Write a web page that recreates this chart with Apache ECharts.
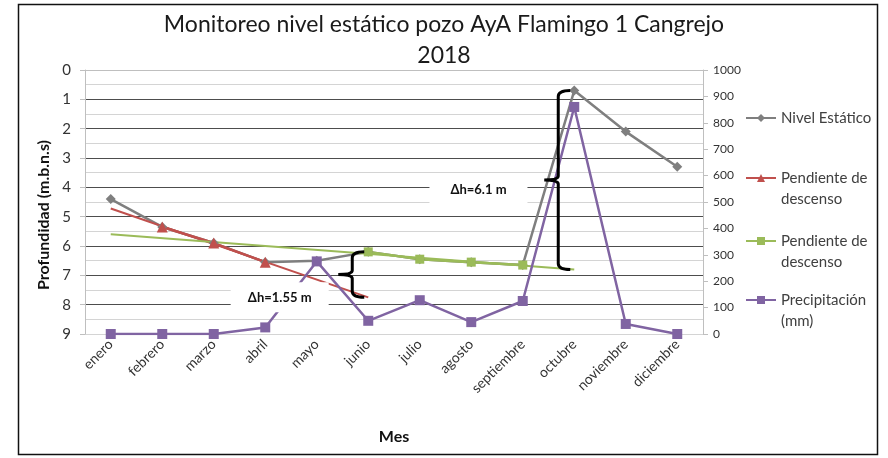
<!DOCTYPE html>
<html>
<head>
<meta charset="utf-8">
<script src="https://cdn.jsdelivr.net/npm/echarts@6/dist/echarts.min.js"></script>
<style>
  html, body { margin: 0; padding: 0; background: #ffffff; }
  #chart { width: 888px; height: 458px; }
</style>
</head>
<body>
<div id="chart"></div>
<script>
// Months of 2018
const meses = ['enero', 'febrero', 'marzo', 'abril', 'mayo', 'junio', 'julio',
  'agosto', 'septiembre', 'octubre', 'noviembre', 'diciembre'];

// Static water level, metres below ground (left axis, inverted)
const nivelEstatico = [4.4, 5.35, 5.9, 6.55, 6.5, 6.2, 6.45, 6.55, 6.65, 0.7, 2.1, 3.3];

// Dry-season drawdown: measured points Feb–Apr and its fitted line Jan–Jun
const pendiente1 = [null, 5.35, 5.9, 6.55, null, null, null, null, null, null, null, null];
const tendencia1 = [4.72, null, null, null, null, 7.75, null, null, null, null, null, null];

// Second drawdown: measured points Jun–Sep and its fitted line Jan–Oct
const pendiente2 = [null, null, null, null, null, 6.2, 6.45, 6.55, 6.65, null, null, null];
const tendencia2 = [5.6, null, null, null, null, null, null, null, null, 6.8, null, null];

// Monthly rainfall, mm (right axis)
const precipitacion = [0, 0, 0, 25, 275, 50, 128, 45, 125, 860, 38, 0];

// Axis ranges
const profundidadMin = 0, profundidadMax = 9, profundidadPaso = 1;
const lluviaMin = 0, lluviaMax = 1000, lluviaPaso = 100;

// Level differences marked with braces: [month index, upper level, lower level]
const llaves = [[5, 6.2, 7.75], [9, 0.7, 6.8]];
// Their captions: [month index, fraction toward next month, level]
const deltaPos = [[3, 0.28, 7.75], [7, 0.14, 4.1]];
const deltaTexto = ['Δh=1.55 m', 'Δh=6.1 m'];

const FONT = 'Lato';
const GRIS = '#7f7f7f', ROJO = '#c0504d', VERDE = '#9bbb59', MORADO = '#8064a2';

const nombres = {
  nivel: 'Nivel Estático',
  p1: 'Pendiente de descenso (feb-abr)',
  p2: 'Pendiente de descenso (jun-sep)',
  lluvia: 'Precipitación (mm)'
};
// Legend captions; the leading blank line keeps the icon level with the first text line
const textoLeyenda = {};
textoLeyenda[nombres.nivel] = 'Nivel Estático';
textoLeyenda[nombres.p1] = ' \nPendiente de\ndescenso';
textoLeyenda[nombres.p2] = ' \nPendiente de\ndescenso';
textoLeyenda[nombres.lluvia] = ' \nPrecipitación\n(mm)';

const chart = echarts.init(document.getElementById('chart'), null, { renderer: 'canvas' });

// Left axis: dark major lines at whole metres, light lines at 0 and 9
const coloresMayores = [];
for (let v = profundidadMin; v <= profundidadMax; v += profundidadPaso) {
  coloresMayores.push(v === profundidadMin || v === profundidadMax ? '#d4d4d4' : '#4d4d4d');
}

function leyenda(nombre, top) {
  return {
    data: [nombre],
    left: 745,
    top: top,
    orient: 'vertical',
    padding: 0,
    itemWidth: 30,
    itemHeight: 10,
    selectedMode: false,
    formatter: n => textoLeyenda[n],
    textStyle: { fontFamily: FONT, fontSize: 15, color: '#404040', lineHeight: 21 }
  };
}

const option = {
  animation: false,
  backgroundColor: '#ffffff',
  textStyle: { fontFamily: FONT },
  title: {
    text: 'Monitoreo nivel estático pozo AyA Flamingo 1 Cangrejo\n2018',
    left: 'center',
    top: 9,
    padding: 0,
    textStyle: { fontFamily: FONT, fontSize: 23, fontWeight: 'normal', color: '#1a1a1a', lineHeight: 31 }
  },
  legend: [
    leyenda(nombres.nivel, 107.5),
    leyenda(nombres.p1, 146.5),
    leyenda(nombres.p2, 209.5),
    leyenda(nombres.lluvia, 268.5)
  ],
  graphic: [{
    type: 'rect',
    shape: { x: 18.5, y: 4.5, width: 859, height: 450 },
    style: { fill: 'none', stroke: '#111', lineWidth: 1.5 },
    silent: true
  }],
  grid: { left: 85, right: 185, top: 70, bottom: 124, containLabel: false },
  xAxis: {
    type: 'category',
    data: meses,
    boundaryGap: true,
    name: 'Mes',
    nameLocation: 'middle',
    nameGap: 95,
    nameTextStyle: { fontFamily: FONT, fontSize: 16, fontWeight: 'bold', color: '#111' },
    axisLine: { lineStyle: { color: '#bfbfbf', width: 1 } },
    axisTick: { show: false },
    axisLabel: { rotate: 45, margin: 8, fontFamily: FONT, fontSize: 14, color: '#333' },
    splitLine: { show: false }
  },
  yAxis: [{
    type: 'value',
    inverse: true,
    min: profundidadMin,
    max: profundidadMax,
    interval: profundidadPaso,
    name: 'Profundidad (m.b.n.s)',
    nameLocation: 'middle',
    nameRotate: 90,
    nameGap: 31,
    nameTextStyle: { fontFamily: FONT, fontSize: 16, fontWeight: 'bold', color: '#111', padding: [0, 26, 0, 0] },
    axisLine: { show: true, lineStyle: { color: '#bfbfbf' } },
    axisTick: { show: true, length: 5, lineStyle: { color: '#bfbfbf' } },
    axisLabel: { margin: 14, fontFamily: FONT, fontSize: 15, color: '#333' },
    splitLine: { show: true, lineStyle: { color: coloresMayores, width: 1 } },
    minorTick: { show: false, splitNumber: 2 },
    minorSplitLine: { show: true, lineStyle: { color: '#d4d4d4', width: 1 } }
  }, {
    type: 'value',
    position: 'right',
    min: lluviaMin,
    max: lluviaMax,
    interval: lluviaPaso,
    axisLine: { show: true, lineStyle: { color: '#bfbfbf' } },
    axisTick: { show: true, length: 5, lineStyle: { color: '#bfbfbf' } },
    axisLabel: { margin: 10, fontFamily: FONT, fontSize: 12, color: '#333', formatter: v => String(v) },
    splitLine: { show: false }
  }],
  series: [
    {
      name: nombres.nivel, type: 'line', yAxisIndex: 0, data: nivelEstatico,
      symbol: 'diamond', symbolSize: 10,
      lineStyle: { color: GRIS, width: 2.5 }, itemStyle: { color: GRIS }
    },
    {
      name: 'Ajuste feb-abr', type: 'line', yAxisIndex: 0, data: tendencia1,
      connectNulls: true, showSymbol: false, symbol: 'none',
      lineStyle: { color: ROJO, width: 2 }, itemStyle: { color: ROJO }
    },
    {
      name: nombres.p1, type: 'line', yAxisIndex: 0, data: pendiente1,
      symbol: 'triangle', symbolSize: 11,
      lineStyle: { color: ROJO, width: 2.5 }, itemStyle: { color: ROJO }
    },
    {
      name: 'Ajuste jun-sep', type: 'line', yAxisIndex: 0, data: tendencia2,
      connectNulls: true, showSymbol: false, symbol: 'none',
      lineStyle: { color: VERDE, width: 2 }, itemStyle: { color: VERDE }
    },
    {
      name: nombres.p2, type: 'line', yAxisIndex: 0, data: pendiente2,
      symbol: 'rect', symbolSize: 9,
      lineStyle: { color: VERDE, width: 2.5 }, itemStyle: { color: VERDE }
    },
    {
      name: nombres.lluvia, type: 'line', yAxisIndex: 1, data: precipitacion,
      symbol: 'rect', symbolSize: 10,
      lineStyle: { color: MORADO, width: 2.5 }, itemStyle: { color: MORADO }
    },
    {
      // white caption boxes with the Δh values
      name: 'Δh texto', type: 'custom', yAxisIndex: 0, z: 5, silent: true,
      data: deltaPos,
      renderItem: function (params, api) {
        const i = api.value(0), f = api.value(1), v = api.value(2);
        const a = api.coord([i, v]);
        const b = api.coord([i + 1, v]);
        const cx = a[0] + (b[0] - a[0]) * f;
        const cy = a[1];
        const w = 98, h = 30;
        return {
          type: 'group',
          children: [{
            type: 'rect',
            shape: { x: cx - w / 2, y: cy - h / 2, width: w, height: h },
            style: { fill: '#ffffff' }
          }, {
            type: 'text',
            style: {
              x: cx, y: cy, text: deltaTexto[params.dataIndex],
              align: 'center', verticalAlign: 'middle',
              font: 'bold 13px ' + FONT, fill: '#111'
            }
          }]
        };
      }
    },
    {
      // curly braces spanning each level difference
      name: 'Δh llaves', type: 'custom', yAxisIndex: 0, z: 6, silent: true,
      data: llaves,
      renderItem: function (params, api) {
        const i = api.value(0);
        const p1 = api.coord([i, api.value(1)]);
        const p2 = api.coord([i, api.value(2)]);
        const x = p1[0] - 16;
        const y1 = p1[1], y2 = p2[1], ym = (y1 + y2) / 2;
        const d = [
          'M', x + 12, y1, 'Q', x, y1, x, y1 + 6,
          'L', x, ym - 4, 'Q', x, ym, x - 14, ym,
          'Q', x, ym, x, ym + 4,
          'L', x, y2 - 6, 'Q', x, y2, x + 12, y2
        ].join(' ');
        return {
          type: 'path',
          shape: { pathData: d },
          style: { fill: 'none', stroke: '#000', lineWidth: 3 }
        };
      }
    }
  ]
};

chart.setOption(option);
</script>
</body>
</html>
